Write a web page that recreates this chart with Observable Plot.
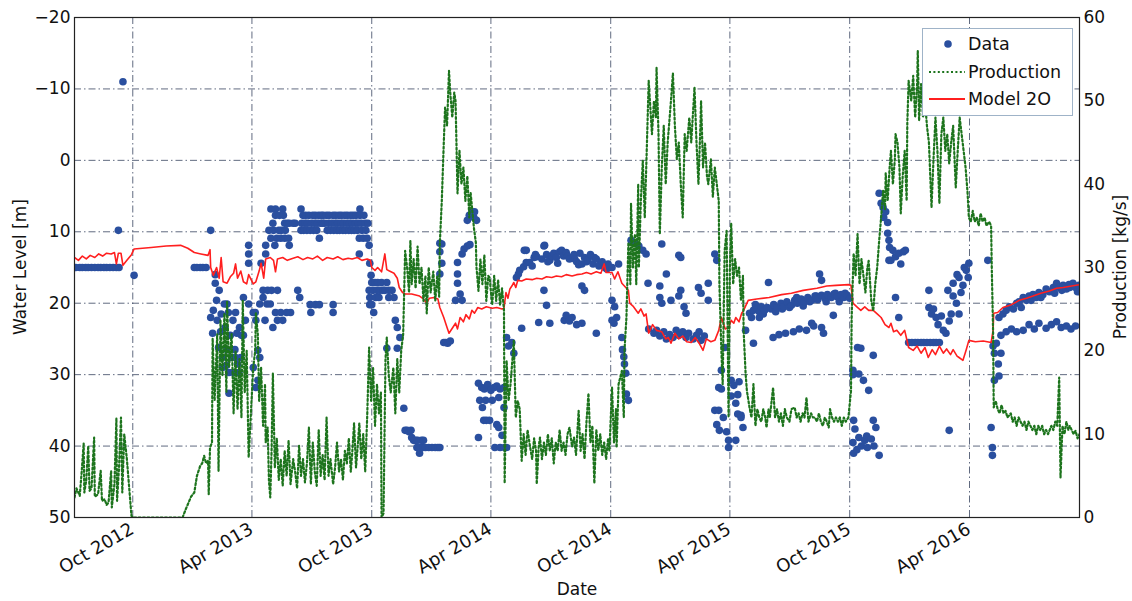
<!DOCTYPE html>
<html>
<head>
<meta charset="utf-8">
<script src="https://cdn.jsdelivr.net/npm/d3@7"></script>
<script src="https://cdn.jsdelivr.net/npm/@observablehq/plot@0.6"></script>
<style>
  body { margin: 0; background: #fff; }
  #wrap { position: relative; width: 1132px; height: 601px; font-family: "DejaVu Sans", sans-serif; color: #111; }
  .lab { position: absolute; font-size: 17px; white-space: nowrap; transform: translate(-50%, -50%); }
  .rot { transform: translate(-50%, -50%) rotate(-90deg); }
  #legend { position: absolute; left: 922px; top: 28px; width: 149px; height: 86px; background: #fff; border: 1px solid #9fb3c8; font-size: 17.5px; }
  #legend .row { position: absolute; left: 0; height: 26px; display: flex; align-items: center; }
  #legend svg { width: 42px; height: 26px; }
</style>
</head>
<body>
<div id="wrap"></div>
<script>
// ---------- data ----------
const xTickDates = ["2012-10-01","2013-04-01","2013-10-01","2014-04-01","2014-10-01","2015-04-01","2015-10-01","2016-04-01"];
const levelTicks = [-20,-10,0,10,20,30,40,50];
const productionTicks = [0,10,20,30,40,50,60];
const seriesNames = ["Data","Production","Model 2O"];

// Production [kg/s] (right axis)
const production = [
["2012-07-04",2.4],["2012-07-07",3.5],["2012-07-12",2.6],["2012-07-15",5.5],["2012-07-18",8.9],["2012-07-19",3.0],["2012-07-22",4.5],["2012-07-25",8.6],["2012-07-27",3.2],["2012-07-30",3.5],["2012-08-03",9.6],["2012-08-04",2.5],["2012-08-09",2.8],["2012-08-13",5.6],["2012-08-15",2.0],["2012-08-19",2.2],["2012-08-22",1.5],["2012-08-25",1.8],["2012-08-29",5.6],["2012-08-30",1.2],["2012-09-03",4.0],["2012-09-06",11.9],["2012-09-07",2.0],["2012-09-10",6.0],["2012-09-13",12.0],["2012-09-15",3.0],["2012-09-18",10.0],["2012-09-22",7.0],["2012-09-29",0.2],["2012-10-01",0],["2012-12-16",0],["2012-12-21",1.0],["2012-12-29",2.5],
["2013-01-03",3.0],["2013-01-07",5.0],["2013-01-12",6.2],["2013-01-15",6.5],["2013-01-18",7.4],["2013-01-21",6.5],["2013-01-24",6.8],["2013-01-25",2.8],["2013-01-27",8.4],["2013-01-30",9.0],["2013-01-31",21.5],["2013-02-03",14.0],["2013-02-04",16.0],["2013-02-07",22.0],["2013-02-09",5.6],["2013-02-12",23.6],["2013-02-15",17.0],["2013-02-18",24.5],["2013-02-21",15.0],["2013-02-22",26.0],["2013-02-25",18.0],["2013-03-01",22.0],["2013-03-04",12.5],["2013-03-07",20.0],["2013-03-10",13.0],["2013-03-13",19.0],["2013-03-16",12.0],["2013-03-18",26.0],["2013-03-21",15.0],["2013-03-24",20.0],["2013-03-27",7.2],["2013-04-03",18.0],["2013-04-06",20.0],["2013-04-07",24.5],["2013-04-10",22.0],["2013-04-12",14.0],["2013-04-15",18.0],["2013-04-18",11.0],["2013-04-21",16.0],["2013-04-22",9.0],["2013-04-25",10.8],["2013-04-27",4.4],["2013-04-29",2.4],["2013-05-01",8.0],["2013-05-03",17.3],["2013-05-06",6.0],["2013-05-09",9.5],["2013-05-12",4.5],["2013-05-15",7.0],["2013-05-18",3.8],["2013-05-21",8.0],["2013-05-24",5.0],["2013-05-27",9.2],["2013-05-30",4.0],["2013-06-03",7.0],["2013-06-06",5.5],["2013-06-09",3.5],["2013-06-12",8.6],["2013-06-15",5.0],["2013-06-18",7.0],["2013-06-21",4.2],["2013-06-24",6.5],["2013-06-27",10.8],["2013-06-30",4.0],["2013-07-03",9.0],["2013-07-06",5.5],["2013-07-09",3.8],["2013-07-12",10.5],["2013-07-15",5.0],["2013-07-18",7.5],["2013-07-21",4.5],["2013-07-24",12.0],["2013-07-27",5.0],["2013-07-30",7.0],["2013-08-03",4.0],["2013-08-06",6.0],["2013-08-09",9.0],["2013-08-12",5.5],["2013-08-15",7.0],["2013-08-18",4.5],["2013-08-21",8.0],["2013-08-24",6.5],["2013-08-27",9.5],["2013-08-30",5.5],["2013-09-01",7.5],["2013-09-04",11.3],["2013-09-07",6.0],["2013-09-10",9.0],["2013-09-12",11.3],["2013-09-15",7.0],["2013-09-18",10.0],["2013-09-21",5.5],["2013-09-24",12.0],["2013-09-27",20.4],["2013-09-30",14.0],["2013-10-03",18.0],["2013-10-06",11.0],["2013-10-09",16.0],["2013-10-12",12.5],["2013-10-15",15.0],["2013-10-16",0],["2013-10-19",0.5],["2013-10-22",19.0],["2013-10-24",21.6],["2013-10-27",17.0],["2013-10-30",15.0],["2013-11-03",18.0],["2013-11-06",12.5],["2013-11-09",19.0],["2013-11-12",15.0],["2013-11-15",20.0],["2013-11-18",22.0],["2013-11-21",32.0],["2013-11-24",30.0],["2013-11-27",27.0],["2013-11-29",33.2],["2013-12-01",28.0],["2013-12-04",31.0],["2013-12-07",27.5],["2013-12-10",32.5],["2013-12-13",28.0],["2013-12-16",30.0],["2013-12-19",26.0],["2013-12-22",29.0],["2013-12-24",24.5],["2013-12-27",30.0],["2013-12-30",27.0],
["2014-01-03",29.5],["2014-01-06",26.0],["2014-01-09",29.0],["2014-01-12",26.5],["2014-01-13",32.9],["2014-01-16",38.0],["2014-01-19",44.9],["2014-01-21",49.2],["2014-01-24",47.0],["2014-01-27",53.6],["2014-01-29",50.9],["2014-02-01",48.0],["2014-02-04",51.0],["2014-02-06",50.0],["2014-02-09",38.9],["2014-02-12",44.0],["2014-02-15",40.0],["2014-02-18",42.0],["2014-02-21",38.0],["2014-02-24",41.0],["2014-02-27",36.0],["2014-03-01",39.0],["2014-03-06",34.8],["2014-03-09",33.0],["2014-03-10",30.0],["2014-03-13",27.2],["2014-03-16",31.0],["2014-03-19",28.0],["2014-03-22",31.5],["2014-03-25",26.0],["2014-03-28",29.0],["2014-03-30",28.8],["2014-04-03",25.5],["2014-04-06",29.0],["2014-04-09",26.0],["2014-04-12",28.5],["2014-04-15",25.5],["2014-04-18",27.5],["2014-04-21",24.8],["2014-04-22",4.1],["2014-04-25",18.8],["2014-04-28",14.0],["2014-05-01",16.0],["2014-05-06",21.2],["2014-05-09",12.0],["2014-05-12",14.0],["2014-05-15",13.0],["2014-05-18",6.8],["2014-05-21",10.0],["2014-05-24",7.5],["2014-05-27",10.5],["2014-05-30",8.9],["2014-06-03",7.0],["2014-06-06",9.5],["2014-06-09",8.0],["2014-06-10",4.0],["2014-06-13",8.5],["2014-06-15",9.6],["2014-06-18",7.0],["2014-06-21",9.0],["2014-06-24",7.5],["2014-06-27",10.0],["2014-06-30",8.0],["2014-07-03",9.5],["2014-07-06",6.5],["2014-07-09",9.0],["2014-07-12",8.0],["2014-07-15",10.5],["2014-07-18",8.0],["2014-07-21",9.0],["2014-07-24",7.5],["2014-07-27",10.0],["2014-07-30",10.8],["2014-08-03",8.5],["2014-08-06",9.6],["2014-08-09",7.5],["2014-08-13",12.8],["2014-08-16",8.0],["2014-08-19",10.0],["2014-08-22",7.0],["2014-08-25",11.5],["2014-08-28",14.9],["2014-08-31",9.0],["2014-09-03",11.0],["2014-09-06",4.1],["2014-09-09",10.5],["2014-09-12",8.0],["2014-09-15",10.0],["2014-09-18",7.5],["2014-09-21",9.0],["2014-09-24",7.0],["2014-09-27",9.5],["2014-09-29",8.0],["2014-10-03",15.6],["2014-10-06",9.0],["2014-10-09",13.0],["2014-10-10",8.4],["2014-10-13",16.0],["2014-10-18",17.6],["2014-10-21",12.0],["2014-10-22",20.0],["2014-10-25",24.0],["2014-10-28",33.0],["2014-10-31",28.0],["2014-11-01",37.7],["2014-11-04",30.0],["2014-11-07",34.0],["2014-11-09",28.0],["2014-11-12",40.0],["2014-11-13",30.0],["2014-11-16",38.0],["2014-11-19",42.8],["2014-11-22",36.0],["2014-11-25",44.0],["2014-11-28",52.4],["2014-12-03",46.0],["2014-12-06",50.0],["2014-12-09",48.0],["2014-12-10",54.0],["2014-12-13",46.0],["2014-12-15",34.0],["2014-12-18",42.0],["2014-12-21",47.0],["2014-12-24",40.0],["2014-12-27",45.0],["2014-12-30",48.0],
["2015-01-01",50.0],["2015-01-04",53.3],["2015-01-07",47.0],["2015-01-10",43.0],["2015-01-13",45.0],["2015-01-16",40.0],["2015-01-19",36.0],["2015-01-22",46.0],["2015-01-25",44.0],["2015-01-29",48.0],["2015-02-01",45.0],["2015-02-04",49.0],["2015-02-06",51.6],["2015-02-09",45.0],["2015-02-12",40.0],["2015-02-15",47.0],["2015-02-16",50.0],["2015-02-19",42.0],["2015-02-22",45.0],["2015-02-25",41.0],["2015-02-27",40.0],["2015-03-03",43.0],["2015-03-06",38.5],["2015-03-09",42.0],["2015-03-12",40.0],["2015-03-15",38.0],["2015-03-16",28.0],["2015-03-19",20.0],["2015-03-21",16.0],["2015-03-24",32.0],["2015-03-27",34.4],["2015-03-30",12.0],["2015-04-01",30.0],["2015-04-03",35.3],["2015-04-06",28.0],["2015-04-09",31.0],["2015-04-12",29.0],["2015-04-15",30.0],["2015-04-18",26.0],["2015-04-21",29.0],["2015-04-22",22.4],["2015-04-25",17.3],["2015-04-27",15.2],["2015-05-01",13.2],["2015-05-04",12.0],["2015-05-07",16.0],["2015-05-10",11.0],["2015-05-13",13.0],["2015-05-16",12.0],["2015-05-19",11.5],["2015-05-22",13.0],["2015-05-25",12.0],["2015-05-27",10.8],["2015-05-30",13.0],["2015-06-01",12.0],["2015-06-06",15.6],["2015-06-09",12.0],["2015-06-12",13.0],["2015-06-15",11.5],["2015-06-18",12.5],["2015-06-21",11.0],["2015-06-24",13.0],["2015-06-27",12.0],["2015-07-01",11.5],["2015-07-04",13.0],["2015-07-09",13.2],["2015-07-12",12.0],["2015-07-15",12.5],["2015-07-18",11.5],["2015-07-21",12.5],["2015-07-24",12.0],["2015-07-27",14.4],["2015-07-30",11.5],["2015-08-03",12.5],["2015-08-06",12.0],["2015-08-09",12.0],["2015-08-12",11.5],["2015-08-15",12.5],["2015-08-18",11.5],["2015-08-21",11.0],["2015-08-24",12.0],["2015-08-27",11.5],["2015-08-30",10.8],["2015-09-01",13.0],["2015-09-04",12.0],["2015-09-07",11.5],["2015-09-10",12.0],["2015-09-13",11.5],["2015-09-16",12.0],["2015-09-19",11.0],["2015-09-22",12.0],["2015-09-25",11.5],["2015-09-29",12.0],["2015-10-03",15.2],["2015-10-04",24.0],["2015-10-07",31.7],["2015-10-10",29.0],["2015-10-13",34.0],["2015-10-16",28.0],["2015-10-19",31.0],["2015-10-22",29.0],["2015-10-25",27.0],["2015-10-28",30.0],["2015-10-30",30.8],["2015-11-03",26.0],["2015-11-06",24.8],["2015-11-09",28.0],["2015-11-12",30.0],["2015-11-15",33.2],["2015-11-18",36.0],["2015-11-21",39.2],["2015-11-24",37.0],["2015-11-25",41.3],["2015-11-28",38.0],["2015-12-01",42.0],["2015-12-03",44.0],["2015-12-06",40.0],["2015-12-09",43.0],["2015-12-10",46.0],["2015-12-13",45.0],["2015-12-16",42.0],["2015-12-18",36.5],["2015-12-21",41.0],["2015-12-24",44.0],["2015-12-27",38.0],["2015-12-28",47.3],["2015-12-30",52.4],
["2016-01-03",50.0],["2016-01-06",53.0],["2016-01-09",48.0],["2016-01-12",52.0],["2016-01-13",56.0],["2016-01-15",47.6],["2016-01-18",52.0],["2016-01-21",48.0],["2016-01-24",50.0],["2016-01-27",47.0],["2016-01-30",45.0],["2016-02-03",37.2],["2016-02-06",43.0],["2016-02-09",48.0],["2016-02-12",44.0],["2016-02-15",37.7],["2016-02-18",46.0],["2016-02-21",48.0],["2016-02-24",44.0],["2016-02-27",46.0],["2016-03-01",42.5],["2016-03-04",45.0],["2016-03-07",47.0],["2016-03-11",39.6],["2016-03-14",44.0],["2016-03-17",48.0],["2016-03-20",46.0],["2016-03-23",44.0],["2016-03-26",42.0],["2016-03-29",39.0],["2016-03-31",36.0],["2016-04-03",35.5],["2016-04-06",36.8],["2016-04-09",35.5],["2016-04-12",36.0],["2016-04-15",35.0],["2016-04-18",36.5],["2016-04-21",35.5],["2016-04-24",36.0],["2016-04-27",35.0],["2016-05-01",35.5],["2016-05-04",35.0],["2016-05-05",30.0],["2016-05-07",22.4],["2016-05-08",13.2],["2016-05-11",14.0],["2016-05-14",13.0],["2016-05-17",12.5],["2016-05-20",13.5],["2016-05-23",12.5],["2016-05-26",12.8],["2016-05-29",12.0],["2016-06-03",12.5],["2016-06-06",11.5],["2016-06-09",12.0],["2016-06-12",11.0],["2016-06-15",12.0],["2016-06-18",11.5],["2016-06-21",11.0],["2016-06-24",11.5],["2016-06-27",10.5],["2016-06-30",11.5],["2016-07-03",11.0],["2016-07-06",10.5],["2016-07-09",11.0],["2016-07-12",10.0],["2016-07-15",11.0],["2016-07-18",10.5],["2016-07-21",11.0],["2016-07-24",10.0],["2016-07-27",10.5],["2016-07-30",10.0],["2016-08-04",11.0],["2016-08-07",10.5],["2016-08-10",11.5],["2016-08-13",11.0],["2016-08-16",16.8],["2016-08-18",4.8],["2016-08-21",11.0],["2016-08-24",10.0],["2016-08-27",11.5],["2016-08-30",10.5],["2016-09-01",11.0],["2016-09-04",10.5],["2016-09-07",10.0],["2016-09-10",10.4],["2016-09-13",9.5],["2016-09-16",10.0]
];

// Model 2O water level [m] (left axis)
const model2O = [
["2012-07-04",13.6],["2012-07-10",14.0],["2012-07-16",13.4],["2012-07-22",13.8],["2012-07-28",13.3],["2012-08-04",13.6],["2012-08-10",13.1],["2012-08-16",13.4],["2012-08-22",13.0],["2012-08-29",13.1],["2012-09-03",12.9],["2012-09-06",14.5],["2012-09-09",13.0],["2012-09-13",13.0],["2012-09-16",14.7],["2012-09-22",14.0],["2012-09-29",13.2],["2012-10-03",12.4],["2012-10-29",12.2],["2012-11-21",12.0],["2012-12-13",11.9],["2012-12-24",12.3],
["2013-01-03",12.9],["2013-01-13",13.1],["2013-01-24",13.3],["2013-01-27",12.5],["2013-01-28",15.0],["2013-02-01",16.1],["2013-02-06",15.0],["2013-02-10",16.5],["2013-02-13",13.6],["2013-02-16",17.0],["2013-02-22",17.2],["2013-02-27",16.3],["2013-03-04",15.8],["2013-03-07",14.5],["2013-03-10",16.5],["2013-03-15",15.5],["2013-03-19",17.0],["2013-03-24",17.3],["2013-03-27",16.0],["2013-04-03",17.3],["2013-04-07",17.0],["2013-04-12",15.5],["2013-04-15",14.4],["2013-04-19",16.5],["2013-04-22",13.8],["2013-04-29",13.6],["2013-05-04",14.0],["2013-05-07",15.6],["2013-05-10",13.8],["2013-05-18",13.6],["2013-05-25",14.0],["2013-06-03",13.7],["2013-06-10",13.5],["2013-06-18",13.9],["2013-06-25",13.6],["2013-07-03",13.8],["2013-07-10",13.4],["2013-07-18",14.0],["2013-07-25",13.6],["2013-08-03",13.8],["2013-08-10",13.5],["2013-08-18",13.9],["2013-08-26",13.7],["2013-09-01",13.8],["2013-09-09",13.6],["2013-09-16",14.0],["2013-09-24",13.8],["2013-09-29",14.0],["2013-10-01",15.0],["2013-10-06",15.4],["2013-10-10",15.0],["2013-10-16",15.6],["2013-10-21",13.1],["2013-10-24",15.3],["2013-10-28",15.5],["2013-11-04",15.8],["2013-11-09",16.5],["2013-11-12",17.8],["2013-11-17",18.5],["2013-11-21",18.7],["2013-12-01",18.7],["2013-12-13",19.0],["2013-12-19",19.4],["2013-12-24",20.0],["2013-12-28",19.3],
["2014-01-04",19.2],["2014-01-10",19.4],["2014-01-13",20.6],["2014-01-19",22.0],["2014-01-24",23.4],["2014-01-27",24.2],["2014-02-01",23.5],["2014-02-06",22.8],["2014-02-09",23.6],["2014-02-13",22.0],["2014-02-18",22.6],["2014-02-22",21.6],["2014-02-27",22.2],["2014-03-03",21.0],["2014-03-07",21.4],["2014-03-12",20.6],["2014-03-18",20.8],["2014-03-25",20.5],["2014-04-03",20.7],["2014-04-10",20.6],["2014-04-18",20.8],["2014-04-21",20.7],["2014-04-24",18.5],["2014-04-27",19.3],["2014-04-30",18.0],["2014-05-03",17.6],["2014-05-06",17.1],["2014-05-09",17.8],["2014-05-12",16.8],["2014-05-18",16.9],["2014-05-25",16.6],["2014-06-03",16.7],["2014-06-10",16.5],["2014-06-18",16.6],["2014-06-25",16.3],["2014-07-03",16.4],["2014-07-10",16.2],["2014-07-18",16.3],["2014-07-25",16.0],["2014-08-03",16.2],["2014-08-10",16.0],["2014-08-18",15.9],["2014-08-25",15.7],["2014-09-01",15.9],["2014-09-09",15.6],["2014-09-16",15.8],["2014-09-21",14.5],["2014-09-24",15.7],["2014-10-03",15.7],["2014-10-07",16.6],["2014-10-12",15.6],["2014-10-18",17.2],["2014-10-24",17.8],["2014-10-28",18.2],["2014-10-30",20.0],["2014-11-04",20.4],["2014-11-12",21.4],["2014-11-16",20.8],["2014-11-21",21.8],["2014-11-24",21.5],["2014-11-28",24.2],["2014-12-04",23.0],["2014-12-10",23.8],["2014-12-18",24.0],["2014-12-24",25.0],["2014-12-28",24.8],
["2015-01-01",25.6],["2015-01-07",24.2],["2015-01-13",25.0],["2015-01-19",24.6],["2015-01-25",25.4],["2015-02-01",25.5],["2015-02-07",24.8],["2015-02-13",25.6],["2015-02-19",26.6],["2015-02-24",25.0],["2015-03-03",25.4],["2015-03-09",25.2],["2015-03-15",23.8],["2015-03-19",22.0],["2015-03-25",23.6],["2015-03-30",23.4],["2015-04-03",22.4],["2015-04-07",22.8],["2015-04-10",22.0],["2015-04-15",22.6],["2015-04-19",21.4],["2015-04-22",21.0],["2015-04-29",19.6],["2015-05-12",19.4],["2015-05-31",19.2],["2015-06-19",18.8],["2015-07-04",18.6],["2015-07-22",18.2],["2015-08-12",17.9],["2015-08-27",17.6],["2015-09-10",17.5],["2015-09-29",17.4],["2015-10-03",17.5],["2015-10-06",20.0],["2015-10-12",20.5],["2015-10-18",21.0],["2015-10-24",20.5],["2015-10-30",21.0],["2015-11-06",21.0],["2015-11-12",21.5],["2015-11-18",22.0],["2015-11-24",23.0],["2015-11-30",23.4],["2015-12-03",22.8],["2015-12-07",24.0],["2015-12-12",23.8],["2015-12-18",24.5],["2015-12-24",23.8],["2015-12-30",26.2],
["2016-01-06",26.6],["2016-01-12",26.0],["2016-01-18",27.0],["2016-01-24",26.2],["2016-01-29",27.6],["2016-02-04",26.5],["2016-02-09",27.2],["2016-02-15",26.0],["2016-02-21",27.0],["2016-02-26",26.4],["2016-03-03",27.2],["2016-03-07",26.5],["2016-03-13",27.4],["2016-03-16",27.6],["2016-03-22",28.0],["2016-03-27",26.5],["2016-03-31",25.2],["2016-04-10",25.4],["2016-04-22",25.3],["2016-05-04",25.5],["2016-05-07",23.8],["2016-05-08",21.4],["2016-05-14",21.3],["2016-05-22",20.6],["2016-06-04",20.2],["2016-06-16",19.6],["2016-06-27",19.3],["2016-07-07",19.0],["2016-07-19",18.6],["2016-08-01",18.3],["2016-08-12",17.9],["2016-08-22",17.8],["2016-09-04",17.6],["2016-09-16",17.4]
];

// Data: measured water level [m] (left axis)
const dataPoints = [
["2012-07-06",15.0],["2012-07-12",15.0],["2012-07-16",15.0],["2012-07-21",15.0],["2012-07-25",15.0],["2012-07-30",15.0],["2012-08-04",15.0],["2012-08-09",15.0],["2012-08-13",15.0],["2012-08-18",15.0],["2012-08-22",15.0],["2012-08-27",15.0],["2012-09-01",15.0],["2012-09-06",15.0],["2012-09-10",15.0],["2012-09-09",9.8],["2012-09-16",-11.0],["2012-10-03",16.1],
["2013-01-03",15.0],["2013-01-07",15.0],["2013-01-12",15.0],["2013-01-16",15.0],["2013-01-21",15.0],["2013-01-28",9.8],["2013-01-28",22.0],["2013-01-31",24.2],["2013-02-01",21.0],["2013-02-04",16.0],["2013-02-04",17.2],["2013-02-06",19.6],["2013-02-07",22.4],["2013-02-09",26.2],["2013-02-10",18.2],["2013-02-12",24.0],["2013-02-13",21.5],["2013-02-15",27.6],["2013-02-15",29.0],["2013-02-18",20.1],["2013-02-19",23.4],["2013-02-21",28.7],["2013-02-22",20.1],["2013-02-22",26.5],["2013-02-24",21.3],["2013-02-25",32.6],["2013-02-25",29.7],["2013-02-27",24.5],["2013-03-01",27.6],["2013-03-03",22.4],["2013-03-04",29.7],["2013-03-06",26.5],["2013-03-07",21.3],["2013-03-07",27.6],["2013-03-09",24.2],["2013-03-10",28.5],["2013-03-12",29.7],["2013-03-13",23.4],["2013-03-15",27.6],["2013-03-16",24.5],["2013-03-19",24.5],["2013-03-19",19.2],["2013-03-22",22.4],["2013-03-27",20.1],["2013-03-27",13.1],["2013-03-27",11.9],["2013-03-27",14.4],["2013-04-03",21.3],["2013-04-03",29.0],["2013-04-06",21.3],["2013-04-07",22.4],["2013-04-07",31.8],["2013-04-10",26.6],["2013-04-10",30.8],["2013-04-13",20.1],["2013-04-13",27.6],["2013-04-15",14.4],["2013-04-18",18.2],["2013-04-18",19.2],["2013-04-21",22.4],["2013-04-22",11.9],["2013-04-22",13.1],["2013-04-24",20.1],["2013-04-25",18.2],["2013-04-27",9.8],["2013-04-29",20.1],["2013-04-30",6.8],["2013-04-30",10.9],
["2013-05-01",18.2],["2013-05-03",8.8],["2013-05-03",23.4],["2013-05-04",9.8],["2013-05-06",11.9],["2013-05-07",6.8],["2013-05-07",7.7],["2013-05-07",21.3],["2013-05-09",10.9],["2013-05-10",18.2],["2013-05-10",22.4],["2013-05-12",9.8],["2013-05-13",7.7],["2013-05-15",10.9],["2013-05-15",21.3],["2013-05-16",9.8],["2013-05-18",6.8],["2013-05-18",22.4],["2013-05-19",7.7],["2013-05-21",8.8],["2013-05-21",10.9],["2013-05-22",9.8],["2013-05-24",21.3],["2013-05-25",8.8],["2013-05-27",10.9],["2013-05-28",11.9],["2013-05-28",8.8],["2013-05-30",21.3],["2013-06-03",8.8],["2013-06-06",8.8],["2013-06-10",18.2],["2013-06-13",19.2],["2013-06-15",6.8],["2013-06-15",9.8],["2013-06-16",8.8],["2013-06-18",7.7],["2013-06-19",9.8],["2013-06-21",8.8],["2013-06-22",7.7],["2013-06-24",9.8],["2013-06-25",8.8],["2013-06-27",7.7],["2013-06-29",9.8],["2013-06-29",20.2],["2013-06-30",21.3],
["2013-07-01",8.8],["2013-07-03",7.7],["2013-07-04",9.8],["2013-07-06",8.8],["2013-07-07",7.7],["2013-07-07",20.2],["2013-07-09",9.8],["2013-07-10",8.8],["2013-07-12",7.7],["2013-07-13",10.9],["2013-07-13",20.2],["2013-07-15",8.8],["2013-07-16",7.7],["2013-07-18",8.8],["2013-07-19",7.7],["2013-07-21",8.8],["2013-07-24",7.7],["2013-07-25",9.8],["2013-07-27",8.8],["2013-07-28",7.7],["2013-07-30",9.8],["2013-08-01",8.8],["2013-08-03",7.7],["2013-08-03",20.2],["2013-08-03",21.3],["2013-08-04",9.8],["2013-08-06",8.8],["2013-08-07",7.7],["2013-08-09",9.8],["2013-08-10",8.8],["2013-08-12",7.7],["2013-08-13",9.8],["2013-08-15",8.8],["2013-08-16",7.7],["2013-08-18",9.8],["2013-08-19",8.8],["2013-08-21",7.7],["2013-08-22",9.8],["2013-08-24",8.8],["2013-08-25",7.7],["2013-08-27",9.8],["2013-08-28",8.8],["2013-08-30",7.7],["2013-08-31",9.8],["2013-09-01",8.8],["2013-09-03",7.7],["2013-09-04",9.8],["2013-09-06",8.8],["2013-09-07",7.7],["2013-09-09",9.8],["2013-09-10",8.8],["2013-09-12",10.9],["2013-09-12",13.1],["2013-09-13",6.8],["2013-09-13",7.7],["2013-09-15",8.8],["2013-09-16",9.8],["2013-09-18",10.9],["2013-09-19",7.7],["2013-09-21",8.8],["2013-09-22",9.8],["2013-09-24",10.9],["2013-09-25",8.8],["2013-09-27",11.9],["2013-09-27",18.2],["2013-09-28",14.4],["2013-09-28",19.2],["2013-09-28",20.2],["2013-09-30",16.1],
["2013-10-01",17.1],["2013-10-01",20.2],["2013-10-03",18.2],["2013-10-04",21.3],["2013-10-06",17.1],["2013-10-07",19.2],["2013-10-09",18.2],["2013-10-10",17.1],["2013-10-12",19.2],["2013-10-13",18.2],["2013-10-16",17.1],["2013-10-18",18.2],["2013-10-21",18.2],["2013-10-24",17.1],["2013-10-24",26.3],["2013-10-27",18.2],["2013-10-27",19.2],["2013-11-01",18.2],["2013-11-04",19.2],["2013-11-06",22.4],["2013-11-09",23.4],["2013-11-09",26.3],["2013-11-13",24.8],["2013-11-19",34.7],["2013-11-21",37.8],["2013-11-24",37.8],["2013-11-27",38.0],["2013-11-30",37.8],["2013-12-01",38.8],["2013-12-04",39.2],["2013-12-07",39.2],["2013-12-09",40.2],["2013-12-10",39.2],["2013-12-13",41.0],["2013-12-13",40.2],["2013-12-16",39.2],["2013-12-18",40.2],["2013-12-19",39.2],["2013-12-22",40.2],["2013-12-27",40.2],
["2014-01-01",40.2],["2014-01-06",40.2],["2014-01-10",40.2],["2014-01-13",40.2],["2014-01-13",11.6],["2014-01-13",12.8],["2014-01-13",15.9],["2014-01-16",14.4],["2014-01-16",11.7],["2014-01-19",25.5],["2014-01-22",25.5],["2014-01-25",25.6],["2014-01-29",25.3],["2014-02-06",19.6],["2014-02-09",14.3],["2014-02-09",15.9],["2014-02-09",17.2],["2014-02-13",18.7],["2014-02-16",19.6],["2014-02-16",13.1],["2014-02-19",12.4],["2014-02-24",12.0],["2014-02-24",8.4],["2014-02-27",7.7],["2014-02-28",11.8],["2014-03-03",7.2],["2014-03-06",8.0],["2014-03-07",7.2],["2014-03-10",8.4],["2014-03-13",31.2],["2014-03-13",38.8],["2014-03-15",33.6],["2014-03-18",31.8],["2014-03-19",34.6],["2014-03-21",36.4],["2014-03-22",32.0],["2014-03-24",33.6],["2014-03-25",36.4],["2014-03-27",31.4],["2014-03-30",36.4],["2014-04-01",32.2],["2014-04-03",33.6],["2014-04-06",31.8],["2014-04-07",40.2],["2014-04-10",31.6],["2014-04-10",37.0],["2014-04-13",33.2],["2014-04-13",37.4],["2014-04-15",32.0],["2014-04-15",40.2],["2014-04-18",38.5],["2014-04-21",31.8],["2014-04-21",34.6],["2014-04-22",40.2],["2014-04-25",24.8],["2014-04-25",40.2],["2014-04-28",26.0],
["2014-05-03",25.5],["2014-05-06",27.0],["2014-05-10",16.4],["2014-05-13",15.9],["2014-05-15",15.4],["2014-05-18",23.5],["2014-05-21",14.9],["2014-05-22",12.6],["2014-05-25",14.3],["2014-05-25",12.6],["2014-05-30",14.3],["2014-06-03",14.8],["2014-06-06",13.6],["2014-06-08",13.2],["2014-06-10",13.5],["2014-06-13",22.7],["2014-06-18",13.8],["2014-06-21",12.0],["2014-06-21",18.2],["2014-06-22",11.9],["2014-06-25",13.2],["2014-06-25",20.3],["2014-06-27",14.2],["2014-06-30",14.0],["2014-06-30",22.8],["2014-07-03",13.4],["2014-07-06",13.0],["2014-07-10",13.6],["2014-07-12",14.4],["2014-07-15",12.8],["2014-07-18",12.6],["2014-07-21",13.4],["2014-07-22",22.4],["2014-07-25",12.9],["2014-07-25",21.7],["2014-07-27",13.4],["2014-07-30",13.8],["2014-07-30",22.5],["2014-08-03",22.0],["2014-08-06",13.2],["2014-08-07",13.8],["2014-08-10",14.2],["2014-08-10",23.0],["2014-08-13",14.6],["2014-08-15",13.0],["2014-08-18",14.5],["2014-08-18",22.8],["2014-08-18",17.6],["2014-08-22",13.6],["2014-08-22",18.2],["2014-08-25",14.2],["2014-08-27",14.0],["2014-08-31",13.2],["2014-09-04",14.5],["2014-09-06",13.6],["2014-09-09",13.8],["2014-09-09",24.2],["2014-09-13",14.8],["2014-09-15",14.6],["2014-09-18",14.2],["2014-09-22",15.0],["2014-09-25",15.2],["2014-09-27",14.5],
["2014-10-03",15.0],["2014-10-03",19.6],["2014-10-03",22.4],["2014-10-06",22.8],["2014-10-07",20.5],["2014-10-10",22.0],["2014-10-13",14.5],["2014-10-18",24.8],["2014-10-19",26.5],["2014-10-21",27.5],["2014-10-22",28.5],["2014-10-24",29.8],["2014-10-25",32.7],["2014-10-28",33.6],["2014-11-01",11.2],["2014-11-07",11.6],["2014-11-13",12.0],["2014-11-19",12.6],["2014-11-24",13.1],["2014-11-27",17.2],["2014-11-28",23.6],["2014-12-06",24.2],["2014-12-10",23.8],["2014-12-15",24.6],["2014-12-15",17.6],["2014-12-15",19.2],["2014-12-18",11.7],["2014-12-18",20.0],["2014-12-21",24.0],["2014-12-25",25.0],["2014-12-25",15.9],["2014-12-30",24.4],
["2015-01-01",19.6],["2015-01-04",24.8],["2015-01-09",23.8],["2015-01-13",24.5],["2015-01-13",13.3],["2015-01-13",19.0],["2015-01-16",18.2],["2015-01-16",13.6],["2015-01-19",24.0],["2015-01-21",20.5],["2015-01-24",24.8],["2015-01-24",21.4],["2015-01-28",24.2],["2015-02-04",25.0],["2015-02-09",24.5],["2015-02-12",17.8],["2015-02-13",24.0],["2015-02-16",25.2],["2015-02-16",18.6],["2015-02-21",24.6],["2015-02-27",17.2],["2015-02-27",19.6],["2015-03-09",13.1],["2015-03-09",35.0],["2015-03-12",14.0],["2015-03-12",37.0],["2015-03-15",31.8],["2015-03-15",35.0],["2015-03-16",37.8],["2015-03-19",29.4],["2015-03-19",32.0],["2015-03-22",36.0],["2015-03-24",26.2],["2015-03-27",38.0],["2015-03-30",39.2],["2015-03-30",40.2],["2015-04-03",30.8],["2015-04-03",33.0],["2015-04-07",31.5],["2015-04-10",34.0],["2015-04-10",39.2],["2015-04-13",32.8],["2015-04-13",35.5],["2015-04-15",31.0],["2015-04-18",35.7],["2015-04-18",36.0],["2015-04-21",37.4],["2015-04-25",23.8],
["2015-05-01",21.4],["2015-05-04",22.0],["2015-05-07",25.6],["2015-05-07",21.0],["2015-05-10",20.2],["2015-05-12",20.8],["2015-05-16",22.0],["2015-05-16",21.2],["2015-05-19",20.5],["2015-05-22",21.5],["2015-05-24",21.0],["2015-05-28",20.6],["2015-05-30",17.1],["2015-06-03",20.8],["2015-06-06",24.8],["2015-06-07",20.2],["2015-06-10",21.2],["2015-06-12",20.6],["2015-06-15",24.4],["2015-06-18",20.0],["2015-06-20",20.8],["2015-06-22",20.5],["2015-06-25",24.2],["2015-06-27",19.8],["2015-07-01",20.6],["2015-07-04",20.3],["2015-07-07",24.0],["2015-07-09",19.6],["2015-07-12",19.2],["2015-07-13",20.0],["2015-07-16",23.6],["2015-07-19",19.4],["2015-07-22",20.4],["2015-07-24",19.8],["2015-07-27",23.8],["2015-07-29",19.2],["2015-08-01",19.8],["2015-08-04",19.6],["2015-08-04",22.8],["2015-08-07",23.2],["2015-08-09",19.0],["2015-08-11",19.0],["2015-08-13",19.5],["2015-08-16",15.9],["2015-08-19",18.9],["2015-08-19",16.8],["2015-08-19",23.4],["2015-08-22",24.2],["2015-08-24",19.3],["2015-08-26",19.8],["2015-08-28",18.8],["2015-09-03",19.2],["2015-09-06",21.7],["2015-09-07",18.7],["2015-09-09",18.6],["2015-09-12",19.1],["2015-09-15",19.8],["2015-09-18",18.8],["2015-09-22",19.2],["2015-09-24",18.6],["2015-09-27",18.9],
["2015-10-01",19.3],["2015-10-06",29.4],["2015-10-06",30.0],["2015-10-06",39.5],["2015-10-07",36.4],["2015-10-07",41.0],["2015-10-09",37.6],["2015-10-12",40.5],["2015-10-13",26.2],["2015-10-15",29.9],["2015-10-15",38.8],["2015-10-18",26.3],["2015-10-19",40.0],["2015-10-22",30.8],["2015-10-24",39.2],["2015-10-27",38.6],["2015-10-28",40.2],["2015-10-30",32.2],["2015-11-03",39.0],["2015-11-06",27.3],["2015-11-06",36.4],["2015-11-07",40.0],["2015-11-10",37.4],["2015-11-15",41.3],["2015-11-15",4.6],["2015-11-18",6.0],["2015-11-21",6.6],["2015-11-22",8.0],["2015-11-25",7.2],["2015-11-28",8.7],["2015-11-28",10.2],["2015-11-30",11.2],["2015-11-30",14.0],["2015-12-01",12.2],["2015-12-03",14.0],["2015-12-06",12.6],["2015-12-10",13.5],["2015-12-10",19.2],["2015-12-15",13.0],["2015-12-15",22.0],["2015-12-18",14.5],["2015-12-22",12.8],["2015-12-25",12.6],["2015-12-30",25.5],
["2016-01-04",25.5],["2016-01-09",25.5],["2016-01-13",25.5],["2016-01-18",25.5],["2016-01-22",25.5],["2016-01-27",25.5],["2016-01-30",18.2],["2016-01-30",20.6],["2016-02-01",25.5],["2016-02-03",21.5],["2016-02-06",20.8],["2016-02-06",25.5],["2016-02-10",22.0],["2016-02-10",25.5],["2016-02-13",23.0],["2016-02-15",25.5],["2016-02-18",21.8],["2016-02-21",23.8],["2016-02-25",24.2],["2016-02-28",18.2],["2016-03-01",22.5],["2016-03-01",37.8],["2016-03-04",21.5],["2016-03-07",17.2],["2016-03-07",19.0],["2016-03-12",20.0],["2016-03-13",16.0],["2016-03-16",16.4],["2016-03-16",21.5],["2016-03-19",18.5],["2016-03-22",17.5],["2016-03-24",15.0],["2016-03-27",15.4],["2016-03-30",16.4],["2016-03-31",14.4],["2016-04-29",14.0],
["2016-05-04",37.4],["2016-05-06",40.2],["2016-05-06",41.3],["2016-05-07",26.0],["2016-05-09",27.0],["2016-05-09",30.8],["2016-05-12",25.6],["2016-05-15",28.5],["2016-05-16",30.2],["2016-05-16",22.0],["2016-05-19",27.0],["2016-05-19",24.5],["2016-05-22",21.5],["2016-05-27",21.0],["2016-05-27",24.0],["2016-06-01",20.5],["2016-06-04",23.6],["2016-06-07",20.8],["2016-06-12",20.0],["2016-06-12",24.0],["2016-06-16",19.8],["2016-06-19",20.6],["2016-06-22",19.2],["2016-06-22",23.8],["2016-06-27",19.6],["2016-07-01",19.0],["2016-07-01",23.0],["2016-07-04",19.6],["2016-07-07",18.8],["2016-07-09",23.6],["2016-07-12",19.2],["2016-07-16",18.5],["2016-07-16",22.8],["2016-07-19",19.2],["2016-07-22",18.8],["2016-07-27",18.0],["2016-07-27",23.5],["2016-08-01",18.4],["2016-08-04",23.0],["2016-08-07",17.8],["2016-08-09",18.6],["2016-08-12",17.2],["2016-08-12",22.6],["2016-08-16",17.8],["2016-08-19",23.4],["2016-08-20",18.2],["2016-08-22",17.5],["2016-08-27",18.0],["2016-08-27",23.2],["2016-08-31",17.4],["2016-09-01",17.8],["2016-09-03",23.6],["2016-09-06",17.2],["2016-09-10",17.8],["2016-09-10",23.2],["2016-09-13",18.4],["2016-09-15",17.5]
];

// ---------- chart ----------
const parse = s => new Date(s + "T00:00:00Z");
const levelFromProduction = p => 50 - p * 70 / 60;  // right axis (0..60 kg/s) onto left axis (50..-20 m)
const productionFromLevel = v => Math.round((50 - v) * 60 / 70);
const minus = v => v < 0 ? "\u2212" + Math.abs(v) : String(v);

const gridStyle = {stroke: "#2c3a55", strokeOpacity: 0.75, strokeWidth: 1, strokeDasharray: "7,3,1.5,3"};

const chart = Plot.plot({
  width: 1132,
  height: 601,
  marginLeft: 74,
  marginRight: 53,
  marginTop: 17,
  marginBottom: 84,
  style: {fontFamily: "DejaVu Sans, sans-serif", fontSize: "17px", color: "#111", background: "transparent", overflow: "visible"},
  x: {type: "utc", domain: [parse("2012-07-04"), parse("2016-09-16")], axis: null},
  y: {domain: [-20, 50], reverse: true, axis: null},
  marks: [
    Plot.gridX(xTickDates.map(parse), gridStyle),
    Plot.gridY(levelTicks, gridStyle),
    Plot.dot(dataPoints, {x: d => parse(d[0]), y: d => d[1], r: 3.8, fill: "#2a4f9f", stroke: "none", clip: true}),
    Plot.line(model2O, {x: d => parse(d[0]), y: d => d[1], stroke: "#ff1f1f", strokeWidth: 1.6, clip: true}),
    Plot.line(production, {x: d => parse(d[0]), y: d => levelFromProduction(d[1]), stroke: "#1d741d", strokeWidth: 2.2, strokeDasharray: "2,2.4", clip: true}),
    Plot.frame({stroke: "#222", strokeWidth: 1.2}),
    // x tick labels, rotated 30°
    Plot.text(xTickDates, {x: d => parse(d), frameAnchor: "bottom", text: d => d3.utcFormat("%b %Y")(parse(d)), rotate: -30, textAnchor: "end", lineAnchor: "top", dx: -4, dy: 4, fontSize: 18, fill: "#111"}),
    Plot.axisY(levelTicks, {anchor: "left", tickFormat: minus, tickSize: 0, tickPadding: 4, label: null, fontSize: 17}),
    Plot.axisY(productionTicks.map(levelFromProduction), {anchor: "right", tickFormat: productionFromLevel, tickSize: 0, tickPadding: 4, label: null, fontSize: 17})
  ]
});

const wrap = document.getElementById("wrap");
wrap.appendChild(chart);

function addLabel(text, x, y, rotate) {
  const el = document.createElement("div");
  el.className = "lab" + (rotate ? " rot" : "");
  el.style.left = x + "px";
  el.style.top = y + "px";
  el.textContent = text;
  wrap.appendChild(el);
}
addLabel("Water Level [m]", 20, 267, true);
addLabel("Production [kg/s]", 1120, 267, true);
addLabel("Date", 577, 589, false);

// legend
const legend = document.createElement("div");
legend.id = "legend";
const symbols = [
  '<svg viewBox="0 0 42 26"><circle cx="25" cy="13" r="3.8" fill="#2a4f9f"/></svg>',
  '<svg viewBox="0 0 42 26"><line x1="6" y1="13" x2="42" y2="13" stroke="#1d741d" stroke-width="2.2" stroke-dasharray="2,2.4"/></svg>',
  '<svg viewBox="0 0 42 26"><line x1="6" y1="13" x2="42" y2="13" stroke="#ff1f1f" stroke-width="1.8"/></svg>'
];
seriesNames.forEach((name, i) => {
  const row = document.createElement("div");
  row.className = "row";
  row.style.top = (2 + i * 27.5) + "px";
  row.innerHTML = symbols[i] + '<span style="margin-left:3px">' + name + '</span>';
  legend.appendChild(row);
});
wrap.appendChild(legend);
</script>
</body>
</html>
